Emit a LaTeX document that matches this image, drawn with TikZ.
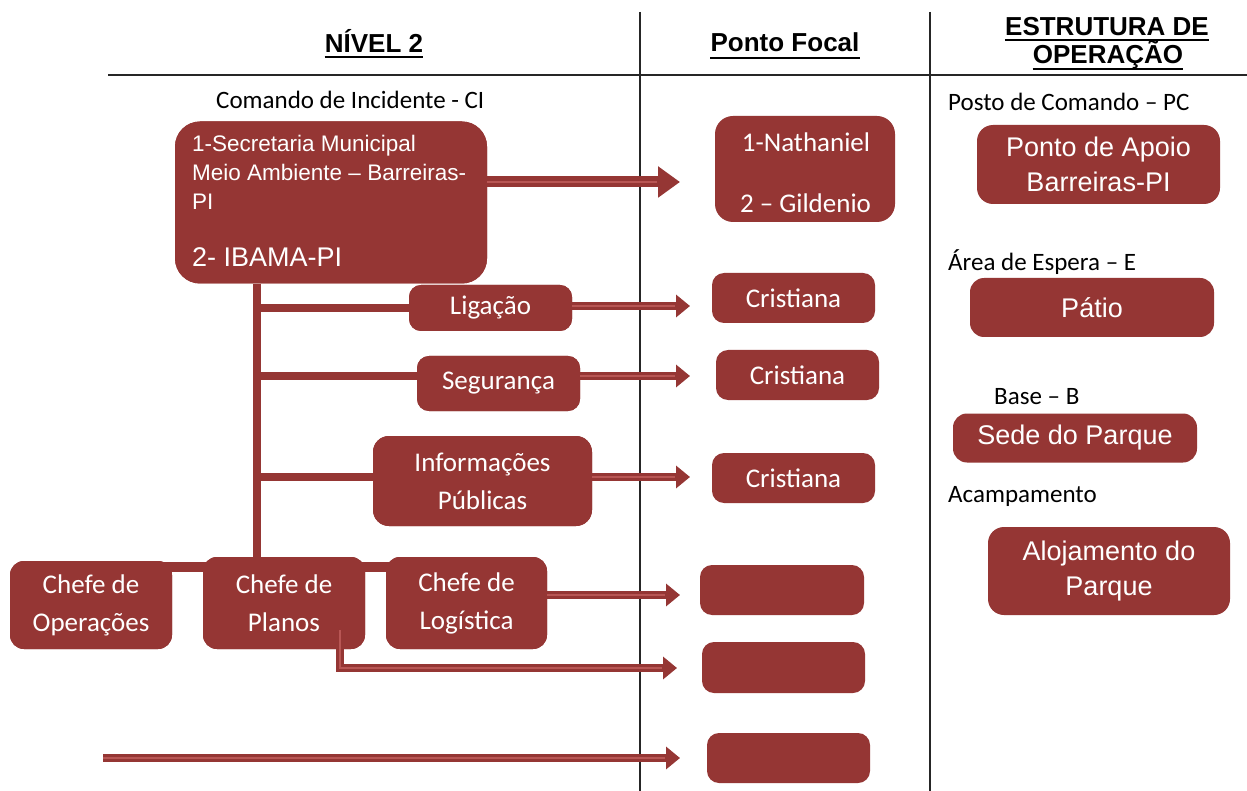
\documentclass[tikz,border=0pt]{standalone}
\usepackage{fontspec}
\setmainfont{Liberation Sans}
\newfontfamily\calfont{Carlito}
\newfontfamily\arifont{Liberation Sans}
\usetikzlibrary{arrows.meta}
\definecolor{dred}{RGB}{149,54,52}
\definecolor{dredl}{RGB}{184,86,84}
\begin{document}
\begin{tikzpicture}[x=1pt,y=-1pt,
  box/.style={fill=dred, draw=none, rounded corners=12pt, text=white, align=center, inner sep=0pt},
  calt/.style={font=\calfont\fontsize{27}{38}\selectfont},
  arit/.style={font=\arifont\fontsize{27}{34.5}\selectfont},
  cit/.style={font=\arifont\fontsize{22.5}{29}\selectfont, text=white, anchor=base west, inner sep=0pt},
  lbl/.style={font=\calfont\fontsize{25}{30}\selectfont, anchor=base west, inner sep=0pt},
  hdr/.style={font=\arifont\bfseries\fontsize{26}{28}\selectfont, anchor=base, inner sep=0pt},
  uline/.style={line width=2pt},
  sep/.style={line width=1.4pt, draw=black!85},
  conn/.style={draw=dred, line width=8pt},
  arr/.style={draw=dred, line width=7.5pt, -{Triangle[length=14pt,width=22pt]},
    postaction={draw=dredl, line width=1.3pt, shorten >=15pt, -}},
  arrbig/.style={draw=dred, line width=11pt, -{Triangle[length=22pt,width=30pt]},
    postaction={draw=dredl, line width=1.8pt, shorten >=23pt, -}}
]
\useasboundingbox (0,0) rectangle (1247,791);
\fill[white] (0,0) rectangle (1247,791);

% table lines
\draw[sep] (640,12) -- (640,791);
\draw[sep] (930,12) -- (930,791);
\draw[sep] (108,75) -- (1247,75);

% headers
\node[hdr] (h1) at (374,53) {NÍVEL 2};
\draw[uline] ([yshift=-4pt]h1.base west) -- ([yshift=-4pt]h1.base east);
\node[hdr] (h2) at (785,52) {Ponto Focal};
\draw[uline] ([yshift=-6pt]h2.base west) -- ([yshift=-6pt]h2.base east);
\node[hdr] (h3) at (1107,36) {ESTRUTURA DE};
\draw[uline] ([yshift=-4pt]h3.base west) -- ([yshift=-4pt]h3.base east);
\node[hdr] (h4) at (1108,64) {OPERAÇÃO};
\draw[uline] ([yshift=-5pt]h4.base west) -- ([yshift=-5pt]h4.base east);

% labels
\node[lbl] (lci) at (216,109) {Comando de Incidente - CI};
\node[lbl] (lpc) at (948,111) {Posto de Comando – PC};
\node[lbl] (lae) at (948,271) {Área de Espera – E};
\node[lbl] (lb) at (994,404) {Base – B};
\node[lbl] (lac) at (948,502) {Acampamento};

% connector coordinates
\coordinate (vb) at (257,570);
\coordinate (bar) at (0,567);
\coordinate (t1) at (680,182);
\coordinate (t2) at (690,306);
\coordinate (t3) at (690,376);
\coordinate (t4) at (690,477);
\coordinate (t5) at (680,595);
\coordinate (p6) at (340,630);
\coordinate (t6) at (677,668);
\coordinate (s7) at (103,758);
\coordinate (t7) at (680,758);

% nodes (positions only, drawn after connectors)
\path
  node[box, minimum width=312pt, minimum height=162pt, rounded corners=25pt] (ci) at (331,202.5) {}
  node[box, calt, minimum width=163pt, minimum height=46pt] (lig) at (490.5,308) {Ligação}
  node[box, calt, minimum width=163pt, minimum height=55pt] (seg) at (498.5,383.5) {Segurança}
  node[box, calt, minimum width=219pt, minimum height=90pt, rounded corners=16pt] (inf) at (482.5,481) {Informações\\Públicas}
  node[box, calt, minimum width=162pt, minimum height=88pt, rounded corners=14pt] (op) at (91,605) {Chefe de\\Operações}
  node[box, calt, minimum width=162pt, minimum height=92pt, rounded corners=14pt] (pla) at (284,603) {Chefe de\\Planos}
  node[box, calt, minimum width=161pt, minimum height=92pt, rounded corners=14pt] (log) at (466.5,603) {Chefe de\\Logística};

% connectors behind boxes
\draw[conn, line width=10pt] (op |- bar) -- (log |- bar);
\draw[conn] (ci.south -| vb) -- (vb);
\draw[conn] (lig.west -| vb) -- (lig.west);
\draw[conn] (vb |- t3) -- (seg.west |- t3);
\draw[conn] (vb |- t4) -- (inf.west |- t4);

% redraw boxes on top
\node[box, minimum width=312pt, minimum height=162pt, rounded corners=25pt] (ci) at (331,202.5) {};
\node[cit] (ci1) at (192,152) {1-Secretaria Municipal};
\node[cit] (ci2) at (192,181) {Meio Ambiente – Barreiras-};
\node[cit] (ci3) at (192,210) {PI};
\node[cit, font=\arifont\fontsize{27}{30}\selectfont] (ci4) at (192,267) {2- IBAMA-PI};
\node[box, calt, minimum width=163pt, minimum height=46pt] (lig) at (490.5,308) {Ligação};
\node[box, calt, minimum width=163pt, minimum height=55pt] (seg) at (498.5,383.5) {Segurança};
\node[box, calt, minimum width=219pt, minimum height=90pt, rounded corners=16pt] (inf) at (482.5,481) {Informações\\Públicas};
\node[box, calt, minimum width=162pt, minimum height=88pt, rounded corners=14pt] (op) at (91,605) {Chefe de\\Operações};
\node[box, calt, minimum width=162pt, minimum height=92pt, rounded corners=14pt] (pla) at (284,603) {Chefe de\\Planos};
\node[box, calt, minimum width=161pt, minimum height=92pt, rounded corners=14pt] (log) at (466.5,603) {Chefe de\\Logística};

% focal point column
\node[box, minimum width=180pt, minimum height=106pt, rounded corners=18pt] (f1) at (805,169) {};
\node[calt, text=white, anchor=base, inner sep=0pt] (f1a) at (806,152) {1-Nathaniel};
\node[calt, text=white, anchor=base, inner sep=0pt] (f1b) at (805.5,213) {2 – Gildenio};
\node[box, calt, minimum width=163pt, minimum height=50pt] (c1) at (793.5,298) {Cristiana};
\node[box, calt, minimum width=163pt, minimum height=50pt] (c2) at (797.5,375) {Cristiana};
\node[box, calt, minimum width=163pt, minimum height=50pt] (c3) at (793.5,478) {Cristiana};
\node[box, minimum width=164pt, minimum height=50pt] (e1) at (782,590) {};
\node[box, minimum width=163pt, minimum height=51pt] (e2) at (783.5,667.5) {};
\node[box, minimum width=163pt, minimum height=50pt] (e3) at (788.5,758) {};

% structure column
\node[box, arit, minimum width=243pt, minimum height=79pt, rounded corners=16pt] (pa) at (1098.5,164.5) {Ponto de Apoio\\Barreiras-PI};
\node[box, arit, minimum width=244pt, minimum height=59pt, rounded corners=14pt] (pt) at (1092,307.5) {Pátio};
\node[box, arit, minimum width=244pt, minimum height=49pt, rounded corners=14pt] (sp) at (1075,438) {Sede do Parque};
\node[box, arit, minimum width=242pt, minimum height=88pt, rounded corners=16pt] (al) at (1109,571) {Alojamento do\\Parque};

% arrows
\draw[arrbig] (ci.east |- t1) -- (t1);
\draw[arr] (lig.east |- t2) -- (t2);
\draw[arr] (seg.east |- t3) -- (t3);
\draw[arr] (inf.east |- t4) -- (t4);
\draw[arr] (log.east |- t5) -- (t5);
\draw[arr] (p6) |- (t6);
\draw[arr] (s7) -- (t7);
\end{tikzpicture}
\end{document}
